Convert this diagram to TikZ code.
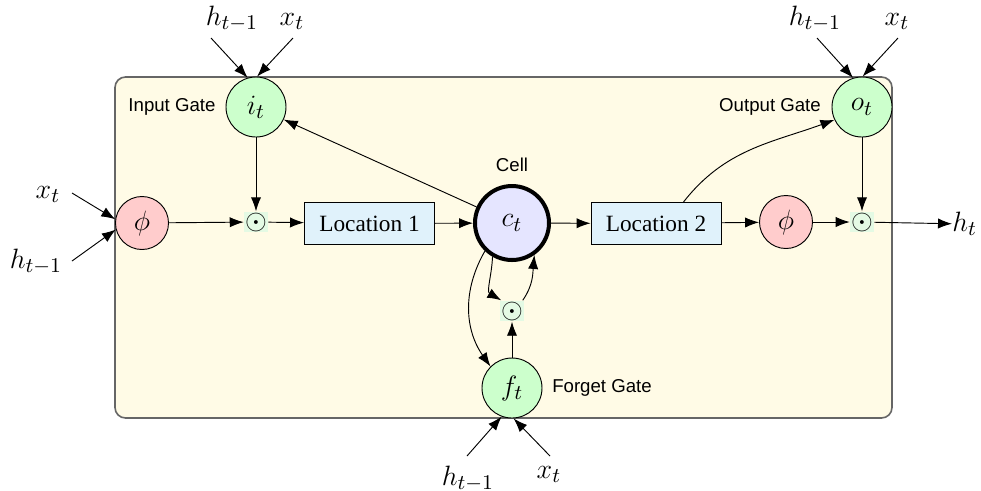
\documentclass[tikz,border=0pt]{standalone}
\usepackage{fontspec}
\setsansfont{Liberation Sans}
\newfontfamily\locfont{Liberation Serif}
\usetikzlibrary{arrows.meta}
\newcommand\pxu{0.429pt}
\definecolor{boxfill}{RGB}{255,251,230}
\definecolor{locfill}{RGB}{224,242,251}
\definecolor{gatefill}{RGB}{204,255,204}
\definecolor{phifill}{RGB}{255,204,204}
\definecolor{cellfill}{RGB}{229,229,255}
\definecolor{prodfill}{RGB}{228,250,228}
\begin{document}
\begin{tikzpicture}[x=\pxu, y=\pxu,
  gate/.style={circle, draw, fill=gatefill, minimum size=60*\pxu, inner sep=0pt, font=\fontsize{13}{15}\selectfont},
  phin/.style={circle, draw, fill=phifill, minimum size=53*\pxu, inner sep=0pt, font=\fontsize{12.5}{15}\selectfont},
  cellc/.style={circle, draw, line width=4*\pxu, fill=cellfill, minimum size=74*\pxu, inner sep=0pt, font=\fontsize{13}{15}\selectfont},
  locb/.style={rectangle, draw, fill=locfill, minimum width=130*\pxu, minimum height=42*\pxu, inner sep=0pt, font=\locfont\fontsize{10}{12}\selectfont},
  prod/.style={rectangle, fill=prodfill, inner sep=0.4pt, font=\large},
  lbl/.style={inner sep=0pt, font=\fontsize{13}{15}\selectfont},
  gtxt/.style={inner sep=0pt, font=\sffamily\fontsize{8}{10}\selectfont},
  arr/.style={-{Latex[length=6pt,width=4.4pt]}}]
\useasboundingbox (0,0) rectangle (981,-490);
% background box
\draw[fill=boxfill, draw=black!60, line width=0.7pt, rounded corners=4.5pt] (115,-77) rectangle (892,-418);
% nodes
\node[phin] (phiL) at (142,-223) {$\phi$};
\node[gate] (it) at (256,-107) {$i_t$};
\node[prod] (od1) at (256,-222) {$\odot$};
\node[locb] (loc1) at (369.5,-223.5) {Location 1};
\node[cellc] (ct) at (512,-223) {$c_t$};
\node[locb] (loc2) at (656,-223.5) {Location 2};
\node[phin] (phiR) at (786,-222) {$\phi$};
\node[prod] (od2) at (862,-222) {$\odot$};
\node[gate] (ot) at (862,-107) {$o_t$};
\node[gate] (ft) at (512,-388) {$f_t$};
\node[prod] (od3) at (512,-311) {$\odot$};
\node[lbl, anchor=west] (ht) at (952,-224) {$h_t$};
% texts
\node[gtxt] (tin) at (172,-107) {Input Gate};
\node[gtxt] (tout) at (770,-107) {Output Gate};
\node[gtxt] (tforget) at (602,-388) {Forget Gate};
\node[gtxt] (tcell) at (512,-165) {Cell};
% outer labels
\node[lbl, anchor=base] (ih) at (232,-25) {$h_{t-1}$};
\node[lbl, anchor=base] (ix) at (292,-25) {$x_t$};
\node[lbl, anchor=base] (oh) at (815,-25) {$h_{t-1}$};
\node[lbl, anchor=base] (ox) at (897,-25) {$x_t$};
\node[lbl, anchor=base] (lx) at (48,-198) {$x_t$};
\node[lbl, anchor=base] (lh) at (36,-268) {$h_{t-1}$};
\node[lbl, anchor=base] (fh) at (468,-485) {$h_{t-1}$};
\node[lbl, anchor=base] (fx) at (549,-478) {$x_t$};
% start coordinates
\coordinate (ia) at (211,-38);
\coordinate (ib) at (293,-38);
\coordinate (oa) at (817,-38);
\coordinate (ob) at (898,-38);
\coordinate (la) at (72,-193);
\coordinate (lb) at (72,-261);
\coordinate (fa) at (467,-456);
\coordinate (fb) at (550,-456);
% inputs
\draw[arr] (ia) -- (it.106);
\draw[arr] (ib) -- (it.88);
\draw[arr] (oa) -- (ot.107);
\draw[arr] (ob) -- (ot.89);
\draw[arr] (la) -- (phiL.172);
\draw[arr] (lb) -- (phiL.194);
\draw[arr] (fa) -- (ft.250);
\draw[arr] (fb) -- (ft.273);
% main flow
\draw[arr] (phiL) -- (od1);
\draw[arr] (it) -- (od1);
\draw[arr] (od1) -- (loc1);
\draw[arr] (loc1) -- (ct);
\draw[arr] (ct) -- (it);
\draw[arr] (ct) -- (loc2);
\draw[arr] (loc2) -- (phiR);
\draw[arr] (phiR) -- (od2);
\draw[arr] (ot) -- (od2);
\draw[arr] (od2) -- (ht);
\draw[arr] (loc2.38) to[out=52, in=200] (ot.205);
\draw[arr] (ct.226) to[out=240, in=125] (ft.135);
\draw[arr] (ct.240) to[out=268, in=150] (od3.135);
\draw[arr] (od3.45) to[out=55, in=265] (ct.305);
\draw[arr] (ft) -- (od3);
\end{tikzpicture}
\end{document}
